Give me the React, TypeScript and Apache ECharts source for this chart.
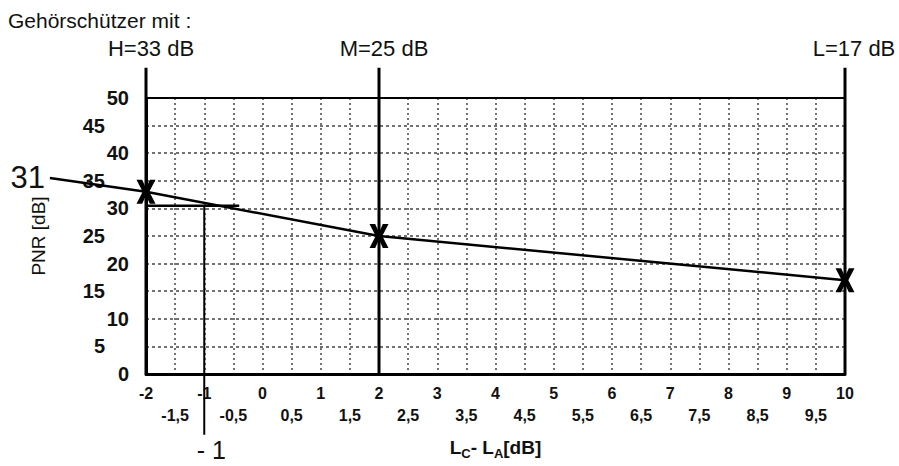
import React, { useEffect, useRef } from "react";
import * as echarts from "echarts";

// ---- data ----
const xMin = -2;
const xMax = 10;
const xStep = 0.5;
const yMin = 0;
const yMax = 50;
const yStep = 5;

const protectorX = [-2, 2, 10];
const protectorLabels = ["H=33 dB", "M=25 dB", "L=17 dB"];
const protectorPNR = [33, 25, 17];
const guideTop = 55.5;

const lineStart = [-3.65, 35.5];
const startLabel = "31";
const readX = -1;
const readY = 30.5;
const readHorizEndX = -0.4;
const readBottomY = -11;
const readLabel = "- 1";

const titleText = "Gehörschützer mit :";
const yTitle = "PNR [dB]";

const FONT = "'Liberation Sans', Arial, Helvetica, sans-serif";

export default function App() {
  const ref = useRef<HTMLDivElement>(null);
  useEffect(() => {
    if (!ref.current) return;
    const chart = echarts.init(ref.current, null, { renderer: "svg" });

    const xSymbol =
      "path://M0,0 L6,0 L10,7 L14,0 L20,0 L13.5,10 L20,20 L14,20 L10,13 L6,20 L0,20 L6.5,10 Z";

    const hiddenPoint = {
      symbol: "circle",
      symbolSize: 1,
      itemStyle: { color: "rgba(0,0,0,0)" },
    };

    const guideSeries = protectorX.map((x, i) => ({
      type: "line",
      clip: false,
      ...hiddenPoint,
      silent: true,
      z: 4,
      lineStyle: { color: "#000", width: 3 },
      data: [
        { value: [x, yMin], label: { show: false } },
        {
          value: [x, guideTop],
          label: {
            show: true,
            position: "top",
            distance: 8,
            offset: [i === 2 ? 9 : 5, 0],
            formatter: protectorLabels[i],
            fontSize: 22,
            fontFamily: FONT,
            color: "#111",
          },
        },
      ],
    }));

    chart.setOption({
      animation: false,
      textStyle: { fontFamily: FONT, color: "#111" },
      grid: { left: 146, right: 54, top: 98, bottom: 92, containLabel: false },
      graphic: [
        {
          type: "text",
          left: 8,
          top: 10,
          style: { text: titleText, fontSize: 21, fontFamily: FONT, fill: "#111" },
        },
      ],
      xAxis: {
        type: "value",
        min: xMin,
        max: xMax,
        interval: xStep,
        axisLine: { show: true, onZero: false, lineStyle: { color: "#000", width: 3 } },
        axisTick: { show: false },
        splitLine: {
          show: true,
          lineStyle: { color: "#444", width: 1.5, type: [2, 3] },
        },
        axisLabel: {
          margin: 11,
          formatter: (v: number) => {
            if (Number.isInteger(v)) return "{i|" + v + "}";
            return "{h|" + String(v).replace(".", ",") + "}";
          },
          rich: {
            i: { fontSize: 16, fontWeight: "bold", fontFamily: FONT, color: "#111" },
            h: {
              fontSize: 16,
              fontWeight: "bold",
              fontFamily: FONT,
              color: "#111",
              padding: [22, 0, 0, 0],
            },
          },
        },
        name: "{n|L}{s|C}{n|- L}{s|A}{n|[dB]}",
        nameLocation: "middle",
        nameGap: 64,
        nameTextStyle: {
          rich: {
            n: { fontSize: 19, fontWeight: "bold", fontFamily: FONT, color: "#111", lineHeight: 22, verticalAlign: "top" },
            s: { fontSize: 13, fontWeight: "bold", fontFamily: FONT, color: "#111", lineHeight: 14, verticalAlign: "bottom", padding: [12, 0, 0, 0] },
          },
        },
      },
      yAxis: {
        type: "value",
        min: yMin,
        max: yMax,
        interval: yStep,
        axisLine: { show: true, onZero: false, lineStyle: { color: "#000", width: 3 } },
        axisTick: { show: false },
        splitLine: {
          show: true,
          lineStyle: { color: "#444", width: 1.5, type: [3, 3] },
        },
        axisLabel: {
          margin: 17,
          formatter: (v: number) => (v % 10 === 0 ? "{t|" + v + "}" : "{f|" + v + "}"),
          rich: {
            t: { fontSize: 20, fontWeight: "bold", fontFamily: FONT, color: "#111" },
            f: { fontSize: 20, fontWeight: "bold", fontFamily: FONT, color: "#111", padding: [0, 24, 0, 0] },
          },
        },
        name: yTitle,
        nameLocation: "middle",
        nameRotate: 90,
        nameGap: 98,
        nameTextStyle: { fontSize: 19, fontFamily: FONT, color: "#111" },
      },
      series: [
        // top frame line
        {
          type: "line",
          symbol: "none",
          silent: true,
          lineStyle: { color: "#000", width: 2 },
          data: [
            [xMin, yMax],
            [xMax, yMax],
          ],
        },
        ...guideSeries,
        // reading lines
        {
          type: "line",
          clip: false,
          symbol: "none",
          silent: true,
          lineStyle: { color: "#000", width: 2.5 },
          data: [
            [xMin, readY],
            [readHorizEndX, readY],
          ],
        },
        {
          type: "line",
          clip: false,
          ...hiddenPoint,
          silent: true,
          lineStyle: { color: "#000", width: 2 },
          data: [
            { value: [readX, readY], label: { show: false } },
            {
              value: [readX, readBottomY],
              label: {
                show: true,
                position: "bottom",
                distance: 2,
                formatter: readLabel,
                fontSize: 25,
                lineHeight: 26,
                fontFamily: FONT,
                color: "#111",
                offset: [7, 0],
              },
            },
          ],
        },
        // extension of PNR line to the left (custom series, not clipped)
        {
          type: "custom",
          silent: true,
          z: 5,
          data: [[lineStart[0], lineStart[1], protectorX[0], protectorPNR[0]]],
          encode: { x: [0, 2], y: [1, 3] },
          renderItem: (params: any, api: any) => {
            const p0 = api.coord([api.value(0), api.value(1)]);
            const p1 = api.coord([api.value(2), api.value(3)]);
            return {
              type: "group",
              children: [
                {
                  type: "line",
                  shape: { x1: p0[0], y1: p0[1], x2: p1[0], y2: p1[1] },
                  style: { stroke: "#000", lineWidth: 2.5 },
                },
                {
                  type: "text",
                  x: p0[0] - 5,
                  y: p0[1] - 1,
                  style: {
                    text: startLabel,
                    fontSize: 31,
                    fontFamily: FONT,
                    fill: "#111",
                    align: "right",
                    verticalAlign: "middle",
                  },
                },
              ],
            };
          },
        },
        // main PNR line
        {
          type: "line",
          clip: false,
          z: 6,
          symbol: xSymbol,
          symbolSize: [19, 24],
          itemStyle: { color: "#000" },
          lineStyle: { color: "#000", width: 2.5 },
          data: protectorX.map((x, i) => [x, protectorPNR[i]]),
        },
      ],
    });
    return () => chart.dispose();
  }, []);
  return (
    <div
      ref={ref}
      style={{ position: "fixed", left: 0, top: 0, width: 899, height: 466, background: "#fff" }}
    />
  );
}
